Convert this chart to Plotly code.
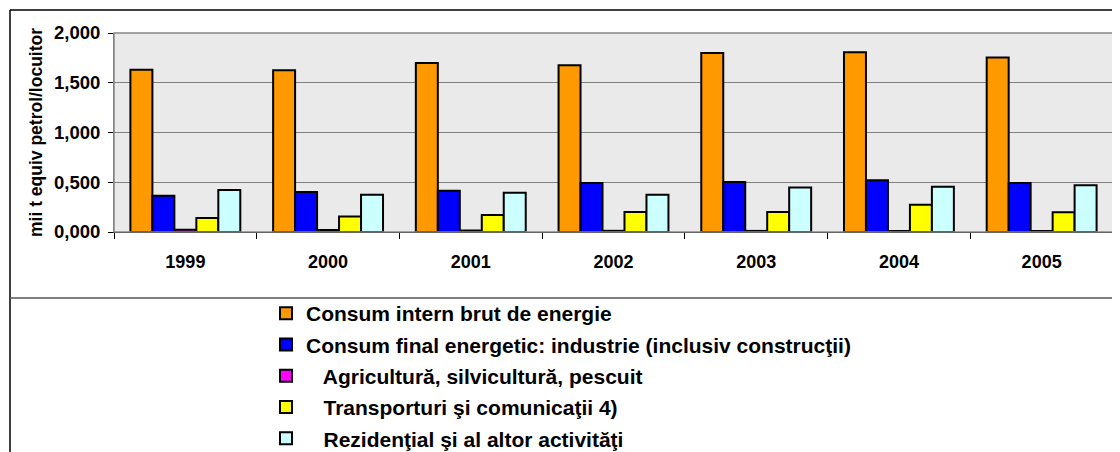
import plotly.graph_objects as go

years = ["1999", "2000", "2001", "2002", "2003", "2004", "2005"]
consum_intern = [1.631, 1.625, 1.698, 1.675, 1.799, 1.806, 1.755]
industrie = [0.365, 0.402, 0.415, 0.492, 0.503, 0.519, 0.492]
agricultura = [0.022, 0.020, 0.015, 0.012, 0.011, 0.010, 0.010]
transporturi = [0.141, 0.157, 0.171, 0.201, 0.201, 0.275, 0.198]
rezidential = [0.422, 0.375, 0.395, 0.375, 0.446, 0.456, 0.469]

series_names = [
    "Consum intern brut de energie",
    "Consum final energetic: industrie (inclusiv construcţii)",
    "   Agricultură, silvicultură, pescuit",
    "   Transporturi şi comunicaţii 4)",
    "   Rezidenţial şi al altor activităţi",
]
series_values = [consum_intern, industrie, agricultura, transporturi, rezidential]
colors = ["#FF9900", "#0000FF", "#FF00FF", "#FFFF00", "#CCFFFF"]

FONT = "Arial, Liberation Sans, sans-serif"

fig = go.Figure()
for i, (name, vals, col) in enumerate(zip(series_names, series_values, colors)):
    fig.add_trace(go.Bar(
        x=years, y=vals, name=name,
        marker=dict(color=col, line=dict(color="black", width=2)),
        legendgroup=str(i),
    ))

# page body margin offsets the figure by 8px
OFF = 8
W, H = 1120 - OFF, 452 - OFF
L, R, T, B = 114 - OFF, 1113 - OFF, 33 - OFF, 232 - OFF
pw, ph = R - L, B - T

def px(x):
    return (x - OFF - L) / pw

def py(y):
    return (B - (y - OFF)) / ph

shapes = [
    dict(type="line", xref="paper", yref="paper", x0=px(10), x1=px(1130), y0=py(10), y1=py(10),
         line=dict(color="black", width=1.5)),
    dict(type="line", xref="paper", yref="paper", x0=px(10), x1=px(10), y0=py(10), y1=py(470),
         line=dict(color="black", width=1.5)),
    dict(type="line", xref="paper", yref="paper", x0=px(10), x1=px(1130), y0=py(298), y1=py(298),
         line=dict(color="#555555", width=1.5)),
]

fig.update_layout(
    width=W, height=H,
    margin=dict(l=L, r=W - R, t=T, b=H - B, autoexpand=False),
    paper_bgcolor="white",
    plot_bgcolor="#EAEAEA",
    barmode="group",
    bargap=0.23,
    bargroupgap=0,
    separators=", ",
    font=dict(family=FONT, size=14, color="black"),
    shapes=shapes,
    showlegend=True,
    legend=dict(
        x=px(266), y=py(293), xanchor="left", yanchor="top",
        font=dict(family=FONT, size=21, color="black", weight="bold"),
        tracegroupgap=1,
        bgcolor="rgba(0,0,0,0)",
        itemwidth=30,
    ),
    xaxis=dict(
        type="category",
        tickson="boundaries",
        ticks="outside", ticklen=6, tickcolor="black", tickwidth=1,
        showline=True, linecolor="black", linewidth=1,
        tickfont=dict(family=FONT, size=18, color="black", weight="bold"),
        ticklabelstandoff=13,
        showgrid=False,
    ),
    yaxis=dict(
        range=[0, 2.0],
        tickvals=[0, 0.5, 1.0, 1.5, 2.0],
        tickformat=".3f",
        ticks="outside", ticklen=5, tickcolor="black",
        showline=True, linecolor="#777777", linewidth=1,
        gridcolor="#808080", gridwidth=1,
        tickfont=dict(family=FONT, size=18.5, color="black", weight="bold"),
        ticklabelstandoff=4,
        title=dict(text="mii t equiv petrol/locuitor",
                   font=dict(family=FONT, size=17.5, color="black", weight="bold"),
                   standoff=6),
        zeroline=False,
    ),
)
fig.add_shape(type="rect", xref="paper", yref="paper", x0=0, x1=1, y0=0, y1=1,
              line=dict(color="#888888", width=1.5), layer="above")

fig.write_html("out.html")
